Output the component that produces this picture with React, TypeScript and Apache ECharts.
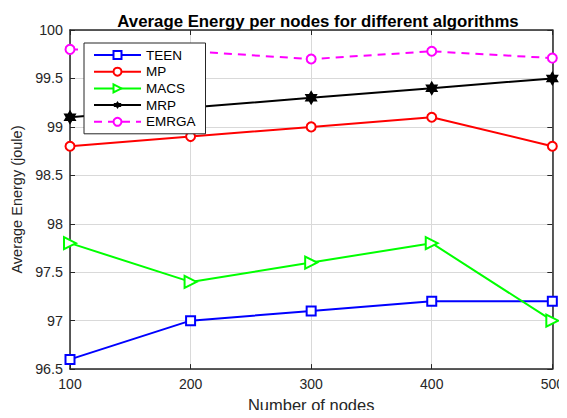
import React, { useEffect, useRef } from "react";
import * as echarts from "echarts";

const nodes = [100, 200, 300, 400, 500];
const teen = [96.6, 97.0, 97.1, 97.2, 97.2];
const mp = [98.8, 98.9, 99.0, 99.1, 98.8];
const macs = [97.8, 97.4, 97.6, 97.8, 97.0];
const mrp = [99.1, 99.2, 99.3, 99.4, 99.5];
const emrga = [99.8, 99.78, 99.7, 99.78, 99.71];

const FONT = "Liberation Sans, Arial, sans-serif";
const AX = "#262626";
const HEX =
  "path://M0,-100 L29,-50 L87,-50 L58,0 L87,50 L29,50 L0,100 L-29,50 L-87,50 L-58,0 L-87,-50 L-29,-50 Z";

const pairs = (ys: number[]) => nodes.map((x, i) => [x, ys[i]]);

export default function App() {
  const ref = useRef<HTMLDivElement>(null);
  useEffect(() => {
    if (!ref.current) return;
    const chart = echarts.init(ref.current, undefined, { renderer: "svg" });
    const axisCommon = {
      axisLine: { show: true, onZero: false, lineStyle: { color: AX, width: 1.5 } },
      axisTick: { show: true, inside: true, length: 5, lineStyle: { color: AX, width: 1 } },
    };
    chart.setOption({
      animation: false,
      backgroundColor: "#fff",
      title: {
        text: "Average Energy per nodes for different algorithms",
        left: 313,
        textAlign: "center",
        top: 8,
        textStyle: { fontFamily: FONT, fontSize: 16.8, fontWeight: "bold", color: "#000" },
      },
      grid: { left: 70, right: 9, top: 30, bottom: 44 },
      legend: {
        orient: "vertical",
        left: 84,
        top: 43,
        padding: [5, 10, 5, 9],
        itemGap: 2.7,
        itemWidth: 47,
        itemHeight: 10,
        backgroundColor: "#fff",
        borderColor: AX,
        borderWidth: 1,
        borderRadius: 0,
        textStyle: { fontFamily: FONT, fontSize: 13.5, lineHeight: 14, color: "#000" },
        data: ["TEEN", "MP", "MACS", "MRP", "EMRGA"],
      },
      xAxis: [
        {
          type: "value",
          min: 100,
          max: 500,
          interval: 100,
          name: "Number of nodes",
          nameLocation: "middle",
          nameGap: 26,
          nameTextStyle: { fontFamily: FONT, fontSize: 16.5, color: AX },
          ...axisCommon,
          axisLabel: { fontFamily: FONT, fontSize: 14, color: AX, margin: 8 },
          splitLine: { show: true, lineStyle: { color: "#d9d9d9", width: 1 } },
        },
        {
          type: "value",
          position: "top",
          min: 100,
          max: 500,
          interval: 100,
          ...axisCommon,
          axisLabel: { show: false },
          splitLine: { show: false },
        },
      ],
      yAxis: [
        {
          type: "value",
          min: 96.5,
          max: 100,
          interval: 0.5,
          name: "Average Energy (joule)",
          nameLocation: "middle",
          nameGap: 44,
          nameTextStyle: { fontFamily: FONT, fontSize: 14.5, color: AX },
          ...axisCommon,
          axisLabel: { fontFamily: FONT, fontSize: 14.3, color: AX, margin: 7 },
          splitLine: { show: true, lineStyle: { color: "#d9d9d9", width: 1 } },
        },
        {
          type: "value",
          position: "right",
          min: 96.5,
          max: 100,
          interval: 0.5,
          ...axisCommon,
          axisLabel: { show: false },
          splitLine: { show: false },
        },
      ],
      series: [
        {
          name: "TEEN",
          type: "line",
          data: pairs(teen),
          symbol: "emptyRect",
          symbolSize: 9,
          color: "#0000ff",
          lineStyle: { width: 2, color: "#0000ff" },
          itemStyle: { color: "#0000ff", borderWidth: 2 },
        },
        {
          name: "MP",
          type: "line",
          data: pairs(mp),
          symbol: "emptyCircle",
          symbolSize: 9,
          color: "#ff0000",
          lineStyle: { width: 2, color: "#ff0000" },
          itemStyle: { color: "#ff0000", borderWidth: 2 },
        },
        {
          name: "MACS",
          type: "line",
          data: pairs(macs),
          symbol: "emptyTriangle",
          symbolRotate: -90,
          symbolSize: 12,
          color: "#00ff00",
          lineStyle: { width: 2, color: "#00ff00" },
          itemStyle: { color: "#00ff00", borderWidth: 2 },
        },
        {
          name: "MRP",
          type: "line",
          data: pairs(mrp),
          symbol: HEX,
          symbolSize: [13, 15],
          color: "#000000",
          lineStyle: { width: 2, color: "#000000" },
          itemStyle: { color: "#000000" },
        },
        {
          name: "EMRGA",
          type: "line",
          data: pairs(emrga),
          symbol: "emptyCircle",
          symbolSize: 9,
          color: "#ff00ff",
          lineStyle: { width: 2, color: "#ff00ff", type: [8, 6] },
          itemStyle: { color: "#ff00ff", borderWidth: 2 },
        },
      ],
    });
    return () => chart.dispose();
  }, []);
  return <div ref={ref} style={{ width: 567, height: 418, margin: -8 }} />;
}
